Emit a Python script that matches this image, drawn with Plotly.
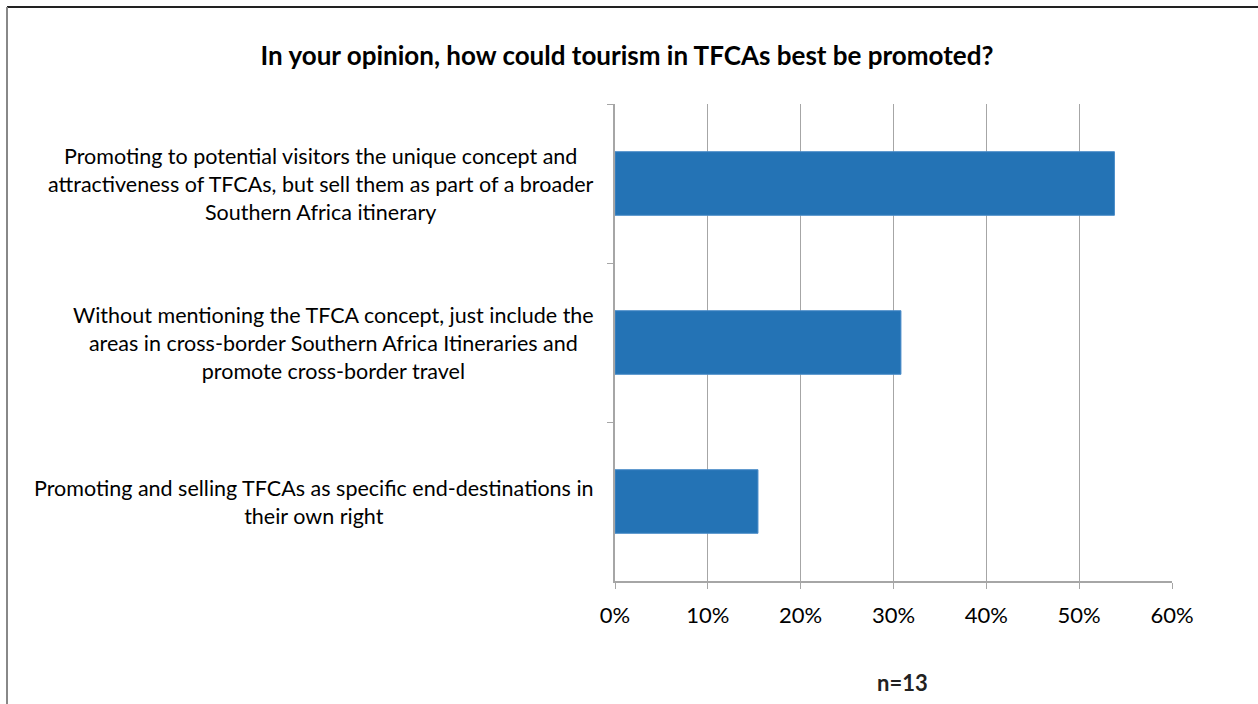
import plotly.graph_objects as go

categories = [
    "Promoting to potential visitors the unique concept and<br>attractiveness of TFCAs, but sell them as part of a broader<br>Southern Africa itinerary",
    "Without mentioning the TFCA concept, just include the<br>areas in cross-border Southern Africa Itineraries and<br>promote cross-border travel",
    "Promoting and selling TFCAs as specific end-destinations in<br>their own right",
]
values = [0.538, 0.308, 0.154]
title_text = "In your opinion, how could tourism in TFCAs best be promoted?"
note_text = "n=13"

FONT = "Lato, 'Open Sans', sans-serif"
W, H = 1258, 704
L, R, T, B = 615, 1172, 104, 581
pw, ph = R - L, B - T

def px(x):
    return (x - L) / pw

def py(y):
    return (B - y) / ph

fig = go.Figure(go.Bar(
    x=values, y=categories, orientation="h",
    marker=dict(color="#2473B5", line=dict(color="#4a8cc8", width=1)),
    width=0.4,
))

fig.update_layout(
    width=W, height=H,
    margin=dict(l=L, r=W - R, t=T, b=H - B, pad=0),
    paper_bgcolor="white", plot_bgcolor="white",
    showlegend=False,
    font=dict(family=FONT, size=20, color="black"),
    title=dict(text="<b>" + title_text + "</b>", x=627 / W, xref="container", xanchor="center",
               y=1 - 56 / H, yref="container", yanchor="middle",
               font=dict(family=FONT, size=26, color="black")),
)

fig.update_xaxes(
    range=[0, 0.6], tickformat=".0%", dtick=0.1, tick0=0,
    showgrid=True, gridcolor="#A6A6A6", gridwidth=1,
    showline=True, linecolor="#A6A6A6", linewidth=1.5,
    ticks="outside", ticklen=6, tickcolor="#A6A6A6",
    ticklabelstandoff=8,
    tickfont=dict(family=FONT, size=22, color="black"),
    zeroline=False, fixedrange=True,
)
fig.update_yaxes(
    categoryorder="array", categoryarray=categories, autorange="reversed",
    showticklabels=False, showgrid=False, zeroline=False,
    showline=True, linecolor="#A6A6A6", linewidth=1.5,
    ticks="outside", tickson="boundaries", ticklen=6, tickcolor="#A6A6A6",
)

for c in categories:
    fig.add_annotation(
        x=px(596), xref="paper", y=c, yref="y", text=c,
        xanchor="right", yanchor="middle", align="center", showarrow=False,
        font=dict(family=FONT, size=21.5, color="black"),
    )

fig.add_annotation(
    x=px(902), xref="paper", y=py(682), yref="paper", text="<b>" + note_text + "</b>",
    xanchor="center", yanchor="middle", showarrow=False,
    font=dict(family=FONT, size=22, color="#222"),
)

# frame lines (top and left borders of the original image)
fig.add_shape(type="line", xref="paper", yref="paper",
              x0=px(7), x1=px(W), y0=py(7), y1=py(7),
              line=dict(color="#222222", width=2))
fig.add_shape(type="line", xref="paper", yref="paper",
              x0=px(7), x1=px(7), y0=py(7), y1=py(H),
              line=dict(color="#888888", width=2))

fig.write_html("out.html")
